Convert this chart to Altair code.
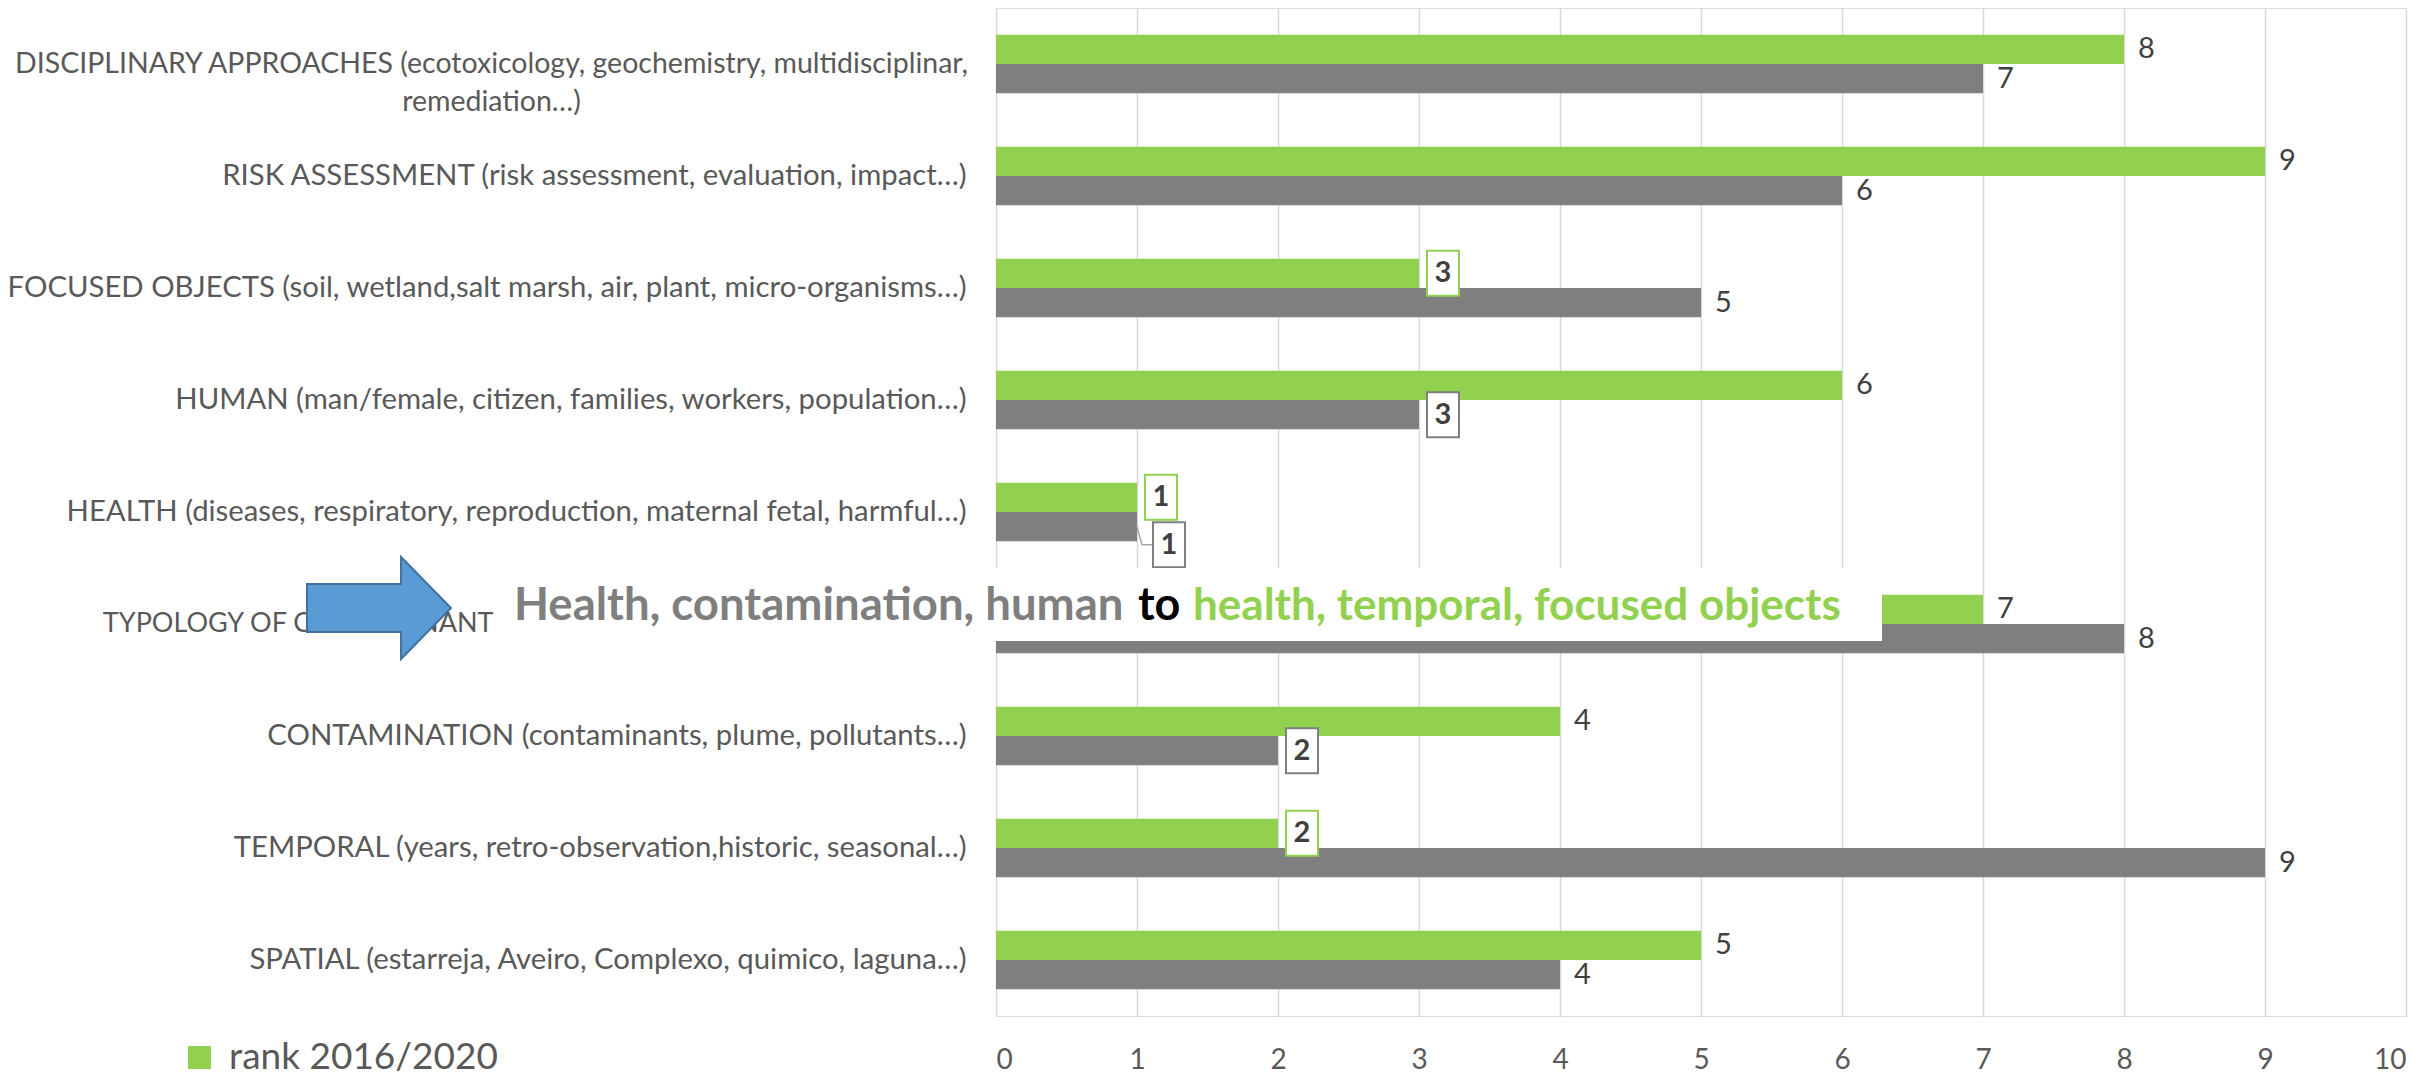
import altair as alt
import pandas as pd

# ---------------- data ----------------
categories = [
    "DISCIPLINARY APPROACHES (ecotoxicology, geochemistry, multidisciplinar, remediation…)",
    "RISK ASSESSMENT (risk assessment, evaluation, impact…)",
    "FOCUSED OBJECTS (soil, wetland,salt marsh, air, plant, micro-organisms…)",
    "HUMAN (man/female, citizen, families, workers, population…)",
    "HEALTH (diseases, respiratory, reproduction, maternal fetal, harmful…)",
    "TYPOLOGY OF CONTAMINANT",
    "CONTAMINATION (contaminants, plume, pollutants…)",
    "TEMPORAL (years, retro-observation,historic, seasonal…)",
    "SPATIAL (estarreja, Aveiro, Complexo, quimico, laguna…)",
]
rank_2016_2020 = [8, 9, 3, 6, 1, 7, 4, 2, 5]
rank_previous = [7, 6, 5, 3, 1, 8, 2, 9, 4]
series_names = ["rank 2016/2020", "rank previous period"]
series_colors = ["#92D050", "#7F7F7F"]
x_ticks = [0, 1, 2, 3, 4, 5, 6, 7, 8, 9, 10]

note_gray = "Health, contamination, human"
note_black = "to"
note_green = "health, temporal, focused objects"

rows = []
for c, a, b in zip(categories, rank_2016_2020, rank_previous):
    rows.append({"category": c, "series": series_names[0], "value": a})
    rows.append({"category": c, "series": series_names[1], "value": b})
df = pd.DataFrame(rows)
one = pd.DataFrame({"k": [0]})

FONT = "Lato"
LABEL_COLOR = "#595959"

is_disc = "indexof(datum.value, 'DISCIPLINARY') === 0"
is_typo = "indexof(datum.value, 'TYPOLOGY') === 0"

y_enc = alt.Y(
    "category:N",
    sort=categories,
    title=None,
    scale=alt.Scale(paddingInner=0.476, paddingOuter=0.238),
    axis=alt.Axis(
        domain=False,
        ticks=False,
        grid=False,
        labelFont=FONT,
        labelFontSize={"condition": [
            {"test": is_disc, "value": 28.5},
            {"test": is_typo, "value": 27},
        ], "value": 29.3},
        labelColor=LABEL_COLOR,
        labelLimit=3000,
        labelLineHeight=38,
        labelBaseline="middle",
        labelExpr="indexof(datum.label, 'DISCIPLINARY') === 0 ? split(replace(datum.label, 'multidisciplinar, ', 'multidisciplinar,|'), '|') : datum.label",
        labelAlign={"condition": {"test": is_disc, "value": "center"}, "value": "right"},
        labelPadding={"condition": [
            {"test": is_disc, "value": 505},
            {"test": is_typo, "value": 503},
        ], "value": 30},
    ),
)
yoff_enc = alt.YOffset("series:N", sort=series_names, scale=alt.Scale(paddingInner=0, paddingOuter=0))
x_enc = alt.X(
    "value:Q",
    title=None,
    scale=alt.Scale(domain=[0, 10], nice=False, zero=True),
    axis=alt.Axis(
        values=x_ticks,
        grid=True,
        gridColor="#D9D9D9",
        gridWidth=1.5,
        domain=False,
        ticks=False,
        labelFont=FONT,
        labelFontSize=28,
        labelColor=LABEL_COLOR,
        labelPadding=30,
    ),
)

base = alt.Chart(df).encode(y=y_enc, yOffset=yoff_enc, x=x_enc)

bars = base.mark_bar().encode(
    color=alt.Color(
        "series:N",
        scale=alt.Scale(domain=series_names, range=series_colors),
        legend=alt.Legend(
            values=[series_names[0]],
            orient="none",
            legendX=-815,
            legendY=1031,
            title=None,
            symbolType="square",
            symbolSize=529,
            symbolStrokeWidth=0,
            labelFont=FONT,
            labelFontSize=37,
            labelColor=LABEL_COLOR,
            labelOffset=11,
            labelLimit=1000,
            padding=0,
        ),
    )
)

plain_labels = base.mark_text(
    align="left", baseline="middle", dx=14, font=FONT, fontSize=29, color="#404040"
).encode(text="value:Q").transform_filter("datum.value > 3")

special_test = f"indexof(datum.category, 'HEALTH') === 0 && datum.series === '{series_names[1]}'"

box_path = "M -0.711 -1 L 0.711 -1 L 0.711 1 L -0.711 1 Z"
box_path_low = "M -0.711 -0.2 L 0.711 -0.2 L 0.711 1.8 L -0.711 1.8 Z"
leader_path = "M 0 0 L 0.222 0.8 L 0.711 0.8"

stroke_enc = alt.Stroke("series:N", scale=alt.Scale(domain=series_names, range=series_colors), legend=None)

boxes = base.mark_point(
    shape=box_path, size=2025, filled=True, fill="white", strokeWidth=2, opacity=1, xOffset=24
).encode(stroke=stroke_enc).transform_filter("datum.value <= 3").transform_filter(f"!({special_test})")

box_text = base.mark_text(
    align="center", baseline="middle", dx=24, font=FONT, fontSize=29, fontWeight="bold", color="#404040"
).encode(text="value:Q").transform_filter("datum.value <= 3").transform_filter(f"!({special_test})")

leader = base.mark_point(
    shape=leader_path, size=2025, filled=False, stroke="#A6A6A6", strokeWidth=1.5, opacity=1
).encode().transform_filter(special_test)

box_low = base.mark_point(
    shape=box_path_low, size=2025, filled=True, fill="white", strokeWidth=2, opacity=1, xOffset=32
).encode(stroke=stroke_enc).transform_filter(special_test)

box_low_text = base.mark_text(
    align="center", baseline="middle", dx=32, dy=18, font=FONT, fontSize=29, fontWeight="bold", color="#404040"
).encode(text="value:Q").transform_filter(special_test)

# ---------------- annotation ----------------
white_box = alt.Chart(one).mark_rect(color="white").encode(
    x=alt.value(-496), x2=alt.value(886), y=alt.value(560), y2=alt.value(633)
)

def note(text, x, color, size):
    return alt.Chart(one).mark_text(
        align="left", baseline="alphabetic", font=FONT, fontSize=size, fontWeight="bold", color=color
    ).encode(x=alt.value(x), y=alt.value(612), text=alt.value(text))

note1 = note(note_gray, -482, "#7F7F7F", 45.5)
note2 = note(note_black, 142, "#000000", 45)
note3 = note(note_green, 197, "#92D050", 44)

arrow_path = "M -1 -0.333 L 0.306 -0.333 L 0.306 -0.708 L 1 0 L 0.306 0.708 L 0.306 0.333 L -1 0.333 Z"
arrow = alt.Chart(one).mark_point(
    shape=arrow_path, size=20736, filled=True, fill="#5B9BD5", stroke="#41719C", strokeWidth=2, opacity=1
).encode(x=alt.value(-617), y=alt.value(600))

chart = alt.layer(
    bars, plain_labels, boxes, box_text, leader, box_low, box_low_text,
    white_box, note1, note2, note3, arrow
).properties(
    width=1410,
    height=1008,
    autosize=alt.AutoSizeParams(type="none"),
    padding={"left": 988, "top": 0, "right": 15, "bottom": 57},
).configure_view(stroke=None).configure(background="white")

chart.save("out.html", embed_options={"renderer": "svg", "actions": False})
